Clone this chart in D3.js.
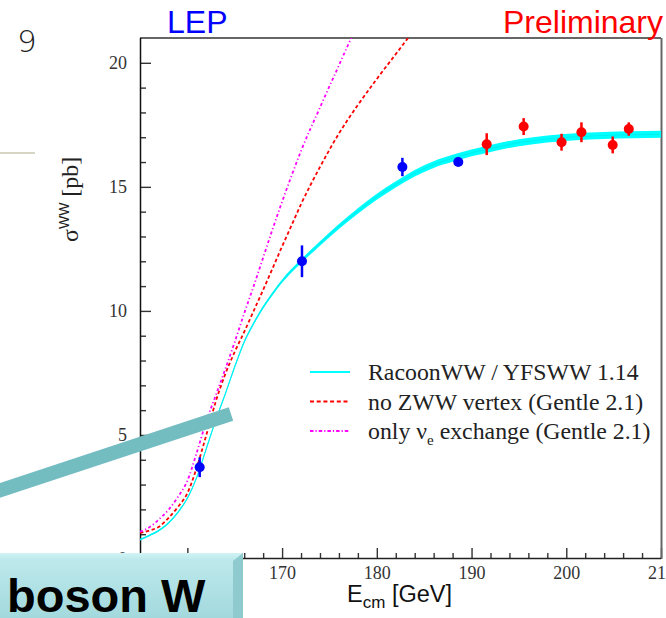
<!DOCTYPE html>
<html>
<head>
<meta charset="utf-8">
<script src="https://cdn.jsdelivr.net/npm/d3@7"></script>
<style>
  body { margin: 0; background: #ffffff; }
</style>
</head>
<body>
<div id="ww-chart"></div>
<script>
// -------------------------------------------------------------------------
// W-pair cross section measured at LEP vs centre-of-mass energy,
// with the RacoonWW / YFSWW prediction and two "broken" Gentle curves
// -------------------------------------------------------------------------

// Theory curves, sigma(WW) in pb on a common energy grid (GeV)
const energyGrid = [155, 156, 157, 158, 159, 160, 161, 162, 163, 164, 165, 166,
    167, 168, 169, 170, 171, 172, 174, 176, 178, 180, 182, 184, 186, 188, 190, 192,
    195, 198, 201, 204, 207, 210];
const racoonSigma = [0.78, 0.95, 1.15, 1.45, 1.88, 2.45, 3.3, 4.45, 5.6, 6.65, 7.75, 8.75,
    9.5, 10.15, 10.7, 11.2, 11.62, 12.0, 12.72, 13.4, 14.03, 14.6, 15.1, 15.55,
    15.9, 16.15, 16.37, 16.55, 16.78, 16.93, 17.02, 17.07, 17.1, 17.12];
// half width of the theory band (pb)
const racoonBand = [0.035, 0.035, 0.035, 0.035, 0.035, 0.035, 0.035, 0.035, 0.035, 0.04,
    0.045, 0.05, 0.055, 0.06, 0.065, 0.07, 0.075, 0.08, 0.09, 0.1, 0.11, 0.12, 0.125,
    0.13, 0.135, 0.14, 0.14, 0.14, 0.14, 0.14, 0.14, 0.14, 0.14, 0.14];
// these two leave the frame early, so they only cover the start of the grid
const noZwwSigma = [1.05, 1.15, 1.3, 1.65, 2.1, 2.65, 3.7, 5.0, 6.35, 7.45, 8.35, 9.15,
    10.0, 10.85, 11.72, 12.6, 13.45, 14.3, 15.8, 17.15, 18.3, 19.35, 20.35, 21.35];
const nueOnlySigma = [1.1, 1.28, 1.6, 1.98, 2.5, 3.15, 4.3, 5.55, 6.6, 7.65, 8.75, 9.9,
    11.0, 12.15, 13.3, 14.4, 15.45, 16.45, 18.2, 19.9, 21.6];

// LEP measurements
const lepEnergy = [161.3, 172.1, 182.7, 188.6, 191.6, 195.5, 199.5, 201.6, 204.9, 206.6];
const lepSigma = [3.7, 12.0, 15.8, 16.0, 16.72, 17.43, 16.8, 17.2, 16.69, 17.33];
const lepError = [0.4, 0.64, 0.37, 0.15, 0.44, 0.34, 0.34, 0.4, 0.34, 0.27];
const lepStatus = ["final", "final", "final", "final",
    "prelim", "prelim", "prelim", "prelim", "prelim", "prelim"];

// Axis ticks
const xMajorTicks = [160, 170, 180, 190, 200, 210];
const yMajorTicks = [0, 5, 10, 15, 20];

// Legend entries
const legendKeys = ["racoon", "nozww", "nue"];

const width = 666, height = 618;
const serif = "'Liberation Serif', 'Times New Roman', serif";
const sans = "'Liberation Sans', Arial, sans-serif";

const svg = d3.select("#ww-chart")
    .append("svg")
    .attr("width", width)
    .attr("height", height);

// plot frame in pixels
const frame = {left: 140, right: 661, top: 38, bottom: 559};

const x = d3.scaleLinear()
    .domain([155, 210])
    .range([frame.left, frame.right]);

const y = d3.scaleLinear()
    .domain([0, 21])
    .range([frame.bottom, frame.top]);

svg.append("defs").append("clipPath")
    .attr("id", "plot-clip")
    .append("rect")
    .attr("x", frame.left)
    .attr("y", frame.top)
    .attr("width", frame.right - frame.left)
    .attr("height", frame.bottom - frame.top);

// ---- axes ----
const xAxis = svg.append("g")
    .attr("transform", `translate(0,${frame.bottom - 1})`)
    .call(d3.axisBottom(x).tickValues(xMajorTicks).tickSizeInner(-10).tickSizeOuter(0).tickPadding(8));
xAxis.call(g => g.select(".domain").remove());
xAxis.selectAll("text")
    .style("font-family", serif)
    .style("font-size", "18px")
    .attr("fill", "#333");

svg.append("g")
    .attr("transform", `translate(0,${frame.bottom - 1})`)
    .call(d3.axisBottom(x)
        .tickValues(d3.range(156, 210, 2).filter(v => v % 10 !== 0))
        .tickSizeInner(-5).tickSizeOuter(0).tickFormat(""))
    .call(g => g.select(".domain").remove());

const yAxis = svg.append("g")
    .attr("transform", `translate(${frame.left},0)`)
    .call(d3.axisLeft(y).tickValues(yMajorTicks).tickSizeInner(-11).tickSizeOuter(0).tickPadding(13));
yAxis.call(g => g.select(".domain").remove());
yAxis.selectAll("text")
    .style("font-family", serif)
    .style("font-size", "18px")
    .attr("fill", "#333");

svg.append("g")
    .attr("transform", `translate(${frame.left},0)`)
    .call(d3.axisLeft(y)
        .tickValues(d3.range(1, 20).filter(v => v % 5 !== 0))
        .tickSizeInner(-6).tickSizeOuter(0).tickFormat(""))
    .call(g => g.select(".domain").remove());

svg.selectAll(".tick line")
    .attr("stroke", "#333")
    .attr("stroke-width", 1.4);

// frame lines
svg.append("line")
    .attr("x1", frame.left).attr("x2", frame.right)
    .attr("y1", frame.top).attr("y2", frame.top)
    .attr("stroke", "#666").attr("stroke-width", 2);
svg.append("line")
    .attr("x1", frame.right + 0.5).attr("x2", frame.right + 0.5)
    .attr("y1", frame.top).attr("y2", frame.bottom)
    .attr("stroke", "#666").attr("stroke-width", 2);
svg.append("line")
    .attr("x1", frame.left).attr("x2", frame.right)
    .attr("y1", frame.bottom - 0.5).attr("y2", frame.bottom - 0.5)
    .attr("stroke", "#222").attr("stroke-width", 1.5);
svg.append("line")
    .attr("x1", frame.left + 0.5).attr("x2", frame.left + 0.5)
    .attr("y1", frame.top).attr("y2", frame.bottom)
    .attr("stroke", "#111").attr("stroke-width", 1.5);

// ---- theory curves ----
const plot = svg.append("g").attr("clip-path", "url(#plot-clip)");

const racoonData = energyGrid.map((e, i) => ({e: e, v: racoonSigma[i], w: racoonBand[i]}));
const noZwwData = noZwwSigma.map((v, i) => ({e: energyGrid[i], v: v}));
const nueData = nueOnlySigma.map((v, i) => ({e: energyGrid[i], v: v}));

const line = d3.line()
    .x(d => x(d.e))
    .y(d => y(d.v))
    .curve(d3.curveMonotoneX);

plot.append("path")
    .datum(racoonData)
    .attr("d", d3.area()
        .x(d => x(d.e))
        .y0(d => y(d.v - d.w))
        .y1(d => y(d.v + d.w))
        .curve(d3.curveMonotoneX))
    .attr("fill", "#00ffff");

plot.append("path")
    .datum(racoonData)
    .attr("d", line)
    .attr("fill", "none")
    .attr("stroke", "#00f0f0")
    .attr("stroke-width", 1.2);

plot.append("path")
    .datum(noZwwData)
    .attr("d", line)
    .attr("fill", "none")
    .attr("stroke", "#ff0000")
    .attr("stroke-width", 1.8)
    .attr("stroke-dasharray", "3.5,2.5");

plot.append("path")
    .datum(nueData)
    .attr("d", line)
    .attr("fill", "none")
    .attr("stroke", "#ff00ff")
    .attr("stroke-width", 1.8)
    .attr("stroke-dasharray", "3,2.5,1.2,2.5");

// ---- LEP points ----
const color = d3.scaleOrdinal()
    .domain(["final", "prelim"])
    .range(["#0000ff", "#ff0000"]);

const points = lepEnergy.map((e, i) => ({e: e, v: lepSigma[i], err: lepError[i], s: lepStatus[i]}));

plot.selectAll(".errbar")
    .data(points)
    .join("line")
    .attr("class", "errbar")
    .attr("x1", d => x(d.e))
    .attr("x2", d => x(d.e))
    .attr("y1", d => y(d.v - d.err))
    .attr("y2", d => y(d.v + d.err))
    .attr("stroke", d => color(d.s))
    .attr("stroke-width", 2.5);

plot.selectAll(".lep-point")
    .data(points)
    .join("circle")
    .attr("class", "lep-point")
    .attr("cx", d => x(d.e))
    .attr("cy", d => y(d.v))
    .attr("r", 5)
    .attr("fill", d => color(d.s));

// ---- legend ----
const legendStyle = {
    racoon: {stroke: "#00ffff", dash: null, width: 2},
    nozww: {stroke: "#ff0000", dash: "4,2.7", width: 1.8},
    nue: {stroke: "#ff00ff", dash: "3.5,2,1.2,2", width: 1.8}
};

const legend = svg.append("g")
    .selectAll("g")
    .data(legendKeys)
    .join("g")
    .attr("transform", (d, i) => `translate(0,${380 + i * 29.5})`);

legend.append("line")
    .attr("x1", 310).attr("x2", 350)
    .attr("y1", -8).attr("y2", -8)
    .attr("stroke", d => legendStyle[d].stroke)
    .attr("stroke-width", d => legendStyle[d].width)
    .attr("stroke-dasharray", d => legendStyle[d].dash);

const legendText = legend.append("text")
    .attr("x", 368)
    .attr("y", 0)
    .style("font-family", serif)
    .style("font-size", "23.8px")
    .attr("fill", "#222");

legendText.filter(d => d === "racoon").text("RacoonWW / YFSWW 1.14");
legendText.filter(d => d === "nozww").text("no ZWW vertex (Gentle 2.1)");
legendText.filter(d => d === "nue").each(function () {
    const t = d3.select(this);
    t.append("tspan").text("only ν");
    t.append("tspan").attr("dy", 6).style("font-size", "15px").text("e");
    t.append("tspan").attr("dy", -6).text(" exchange (Gentle 2.1)");
});

// ---- axis titles ----
const yTitle = svg.append("text")
    .attr("transform", "translate(78,242) rotate(-90)")
    .style("font-family", serif)
    .style("font-size", "24px")
    .attr("fill", "#222");
yTitle.append("tspan").text("σ");
yTitle.append("tspan").attr("dy", -9).style("font-family", sans).style("font-size", "14px").text("WW");
yTitle.append("tspan").attr("dy", 9).text(" [pb]");

const xTitle = svg.append("text")
    .attr("x", 347)
    .attr("y", 602)
    .style("font-family", sans)
    .style("font-size", "23.5px")
    .attr("fill", "#111");
xTitle.append("tspan").text("E");
xTitle.append("tspan").attr("dy", 6).style("font-size", "17px").text("cm");
xTitle.append("tspan").attr("dy", -6).text(" [GeV]");

// ---- headers ----
svg.append("text")
    .attr("x", 167)
    .attr("y", 33)
    .style("font-family", sans)
    .style("font-size", "32px")
    .attr("fill", "#0000ff")
    .text("LEP");

svg.append("text")
    .attr("x", 663)
    .attr("y", 33)
    .attr("text-anchor", "end")
    .style("font-family", sans)
    .style("font-size", "32px")
    .attr("fill", "#ff0000")
    .text("Preliminary");

// ---- slide decorations around the plot ----
svg.append("text")
    .attr("x", 17)
    .attr("y", 52)
    .style("font-family", "'DejaVu Sans', sans-serif")
    .style("font-size", "31px")
    .style("font-weight", 200)
    .attr("fill", "#222")
    .text("9");

svg.append("line")
    .attr("x1", 0).attr("x2", 35)
    .attr("y1", 153).attr("y2", 153)
    .attr("stroke", "#d9d5c5")
    .attr("stroke-width", 2);

// pointer bar
svg.append("line")
    .attr("x1", -5).attr("y1", 492)
    .attr("x2", 231).attr("y2", 414)
    .attr("stroke", "#73bdc1")
    .attr("stroke-width", 14);

// "boson W" button
const grad = svg.select("defs").append("linearGradient")
    .attr("id", "btn-grad")
    .attr("x1", 0).attr("y1", 0).attr("x2", 0).attr("y2", 1);
grad.append("stop").attr("offset", "0%").attr("stop-color", "#d2f3f5");
grad.append("stop").attr("offset", "10%").attr("stop-color", "#bde9ec");
grad.append("stop").attr("offset", "100%").attr("stop-color", "#a3d9dd");

svg.append("rect")
    .attr("x", 0).attr("y", 553)
    .attr("width", 243).attr("height", 65)
    .attr("fill", "url(#btn-grad)");

svg.append("polygon")
    .attr("points", "233,561 243,553 243,618 233,618")
    .attr("fill", "#8ecace");

svg.append("text")
    .attr("x", 7)
    .attr("y", 612)
    .style("font-family", sans)
    .style("font-size", "47px")
    .style("font-weight", "bold")
    .attr("fill", "#000")
    .text("boson W");
</script>
</body>
</html>
